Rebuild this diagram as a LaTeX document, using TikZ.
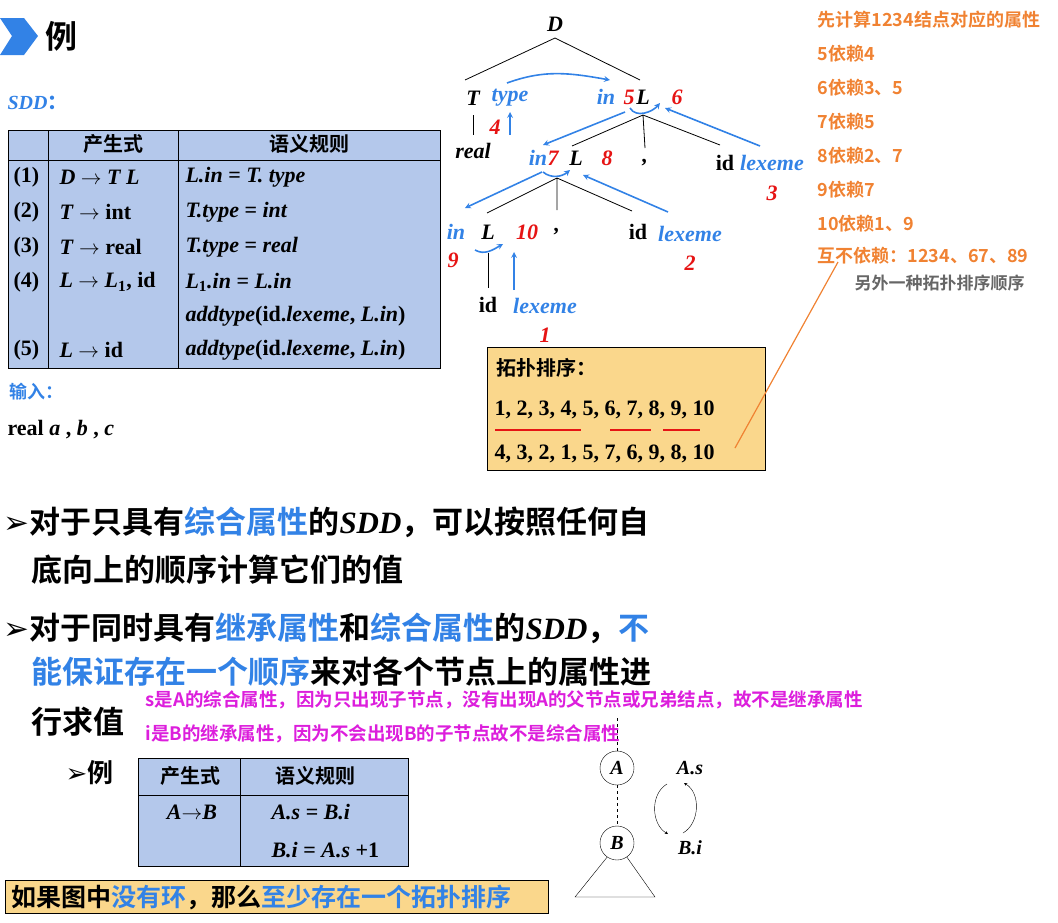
\documentclass[tikz,border=0pt]{standalone}
\usepackage{fontspec}
\setmainfont{Liberation Serif}
\newfontfamily\cjk{Noto Sans CJK SC}[BoldFont={Noto Sans CJK SC Bold}]
\newfontfamily\sym{DejaVu Sans}
\usetikzlibrary{positioning,calc}
\definecolor{myblue}{RGB}{50,130,230}
\definecolor{myred}{RGB}{230,20,20}
\definecolor{myorange}{RGB}{240,130,50}
\definecolor{mymag}{RGB}{220,30,220}
\definecolor{tblue}{RGB}{180,200,235}
\definecolor{tgold}{RGB}{250,215,140}
\newcommand{\zh}[1]{{\cjk\bfseries #1}}
\newcommand{\bi}[1]{\textbf{\textit{#1}}}

\begin{document}
\begin{tikzpicture}[x=1pt,y=-1pt,
  sym/.style={font=\fontsize{22}{24}\selectfont\bfseries\itshape},
  bl/.style={sym,text=myblue},
  num/.style={sym,text=myred},
  blarr/.style={myblue,line width=1.6pt,-stealth},
  edge/.style={line width=0.8pt},
  tbl/.style={font=\fontsize{22}{24}\selectfont\bfseries},
  big/.style={font=\fontsize{31}{34}\selectfont,anchor=west},
  note/.style={font=\fontsize{18}{20}\selectfont\cjk\bfseries,text=myorange,anchor=west},
  pink/.style={font=\fontsize{18.5}{20}\selectfont\cjk\bfseries,text=mymag,anchor=west}
]
\useasboundingbox (0,0) rectangle (1058,922);

% title
\fill[myblue] (0,18) -- (24,18) -- (38,36) -- (24,55) -- (0,55) -- (12,36) -- cycle;
\node[font=\fontsize{32}{34}\selectfont\cjk\bfseries,anchor=west] (title) at (42,36) {例};
\node[bl,anchor=west,font=\fontsize{20}{22}\selectfont\bfseries\itshape] (sdd) at (4,103) {SDD\zh{：}};

% SDD table
\draw[fill=tblue,line width=0.8pt] (8,130) rectangle (440,368);
\draw (8,160) -- (440,160);
\draw (48,130) -- (48,368) (178,130) -- (178,368);
\node[tbl,font=\fontsize{20}{22}\selectfont] (h1) at (113,144) {\zh{产生式}};
\node[tbl,font=\fontsize{20}{22}\selectfont] (h2) at (309,144) {\zh{语义规则}};
\foreach \y/\n/\p/\r in {177/(1)/{\bi{D} $\rightarrow$ \bi{T L}}/{\bi{L.in} = \bi{T. type}},
  212/(2)/{\bi{T} $\rightarrow$ int}/{\bi{T.type} = \bi{int}},
  247/(3)/{\bi{T} $\rightarrow$ real}/{\bi{T.type} = \bi{real}},
  282/(4)/{\bi{L} $\rightarrow$ \bi{L}$_\mathbf{1}$, id}/{\bi{L}$_\mathbf{1}$\bi{.in} = \bi{L.in}},
  316/{}/{}/{\bi{addtype}(id.\bi{lexeme}, \bi{L.in})},
  350/(5)/{\bi{L} $\rightarrow$ id}/{\bi{addtype}(id.\bi{lexeme}, \bi{L.in})}}{
  \node[tbl,anchor=west] at (10,\y) {\n};
  \node[tbl,anchor=west] at (56,\y) {\p};
  \node[tbl,anchor=west] at (182,\y) {\r};
}
\node[anchor=west,font=\fontsize{18}{20}\selectfont\cjk\bfseries,text=myblue] (input) at (6,392) {输入：};
\node[tbl,anchor=west] (realabc) at (4,430) {real \bi{a} , \bi{b} , \bi{c}};

% parse tree
\node[sym] (D) at (555,24) {D};
\node[sym] (T) at (473,98) {T};
\node[bl] (type) at (510,98) {type};
\node[num] (n4) at (495,127) {4};
\node[sym] (real) at (473,151) {real};
\node[bl] (in5) at (606,97) {in};
\node[num] (n5) at (629,97) {5};
\node[sym] (L1) at (643,97) {L};
\node[num] (n6) at (677,97) {6};
\node[bl] (in7) at (538,158) {in};
\node[num] (n7) at (553,158) {7};
\node[sym] (L2) at (576,158) {L};
\node[num] (n8) at (607,158) {8};
\node[sym] (c1) at (645,163) {,};
\node[sym,font=\fontsize{22}{24}\selectfont\bfseries] (id1) at (725,163) {id};
\node[bl] (lx1) at (772,163) {lexeme};
\node[num] (n3) at (772,193) {3};
\node[bl] (in9) at (456,232) {in};
\node[num] (n9) at (453,260) {9};
\node[sym] (L3) at (488,232) {L};
\node[num] (n10) at (527,232) {10};
\node[sym] (c2) at (557,232) {,};
\node[sym,font=\fontsize{22}{24}\selectfont\bfseries] (id2) at (638,232) {id};
\node[bl] (lx2) at (690,234) {lexeme};
\node[num] (n2) at (690,263) {2};
\node[sym,font=\fontsize{22}{24}\selectfont\bfseries] (id3) at (488,305) {id};
\node[bl] (lx3) at (545,306) {lexeme};
\node[num] (n1) at (545,335) {1};

\draw[edge] (555,38) -- (465,80) (555,38) -- (640,80);
\draw[edge] (473,115) -- (473,135);
\draw[edge] (643,115) -- (572,146) (643,115) -- (645,148) (643,115) -- (720,145);
\draw[edge] (557,178) -- (487,213) (557,178) -- (557,210) (557,178) -- (632,211);
\draw[edge] (488,253) -- (488,288);

\draw[blarr] (507,83) to[out=20,in=170] (610,80);
\draw[blarr] (510,135) -- (510,112);
\draw[blarr] (630,108) to[out=-60,in=-130] (660,103);
\draw[blarr] (625,112) -- (543,145);
\draw[blarr] (760,146) -- (665,108);
\draw[blarr] (543,172) to[out=-40,in=-140] (570,170);
\draw[blarr] (542,172) -- (465,208);
\draw[blarr] (668,212) -- (583,175);
\draw[blarr] (475,250) to[out=-30,in=-150] (503,244);
\draw[blarr] (514,290) -- (514,252);

% topological order box
\draw[fill=tgold,line width=0.8pt] (487,347) rectangle (765,470);
\node[tbl,anchor=west,font=\fontsize{20}{22}\selectfont] (topo) at (493,368) {\zh{拓扑排序：}};
\node[tbl,anchor=west] (ord1) at (491,410) {1, 2, 3, 4, 5, 6, 7, 8, 9, 10};
\node[tbl,anchor=west] (ord2) at (491,454) {4, 3, 2, 1, 5, 7, 6, 9, 8, 10};
\draw[myred,line width=1.6pt] (495,430) -- (581,430) (610,430) -- (651,430) (663,430) -- (700,430);
\draw[myorange,line width=1.2pt] (735,448) -- (838,262);

% notes on the right
\foreach \y/\t in {20/先计算1234结点对应的属性,54/5依赖4,88/6依赖3、5,122/7依赖5,156/8依赖2、7,190/9依赖7,224/10依赖1、9,256/互不依赖：1234、67、89}
  \node[note] at (814,\y) {\t};
\node[note,text=gray!80!black,font=\fontsize{17}{19}\selectfont\cjk\bfseries] (other) at (851,283) {另外一种拓扑排序顺序};

% bullets
\node[big] (b1) at (0,522) {{\sym ➢}\zh{对于只具有{\color{myblue}综合属性}的}\bi{SDD}\zh{，可以按照任何自}};
\node[big] (b1b) at (28,570) {\zh{底向上的顺序计算它们的值}};
\node[big] (b2) at (0,628) {{\sym ➢}\zh{对于同时具有{\color{myblue}继承属性}和{\color{myblue}综合属性}的}\bi{SDD}\zh{，{\color{myblue}不}}};
\node[big] (b2b) at (28,672) {\zh{{\color{myblue}能保证存在一个顺序}来对各个节点上的属性进}};
\node[big] (b2c) at (28,722) {\zh{行求值}};
\node[pink] (s1) at (142,700) {s是A的综合属性，因为只出现子节点，没有出现A的父节点或兄弟结点，故不是继承属性};
\node[pink] (s2) at (142,734) {i是B的继承属性，因为不会出现B的子节点故不是综合属性};
\node[big,font=\fontsize{26}{28}\selectfont] (ex) at (62,773) {{\sym ➢}\zh{例}};

% small table
\draw[fill=tblue,line width=0.8pt] (138,758) rectangle (408,866);
\draw (138,795) -- (408,795) (240,758) -- (240,866);
\node[tbl,font=\fontsize{20}{22}\selectfont] at (190,776) {\zh{产生式}};
\node[tbl,font=\fontsize{20}{22}\selectfont] at (315,776) {\zh{语义规则}};
\node[tbl] at (192,812) {\bi{A}$\rightarrow$\bi{B}};
\node[tbl,anchor=west] at (268,812) {\bi{A.s} = \bi{B.i}};
\node[tbl,anchor=west] at (268,850) {\bi{B.i} = \bi{A.s} +1};

% bottom box
\draw[fill=tgold,line width=0.8pt] (5,880) rectangle (548,913);
\node[font=\fontsize{25}{27}\selectfont,anchor=west] (concl) at (8,897) {\zh{如果图中{\color{myblue}没有环}，那么{\color{myblue}至少存在一个拓扑排序}}};

% A/B dependency
\node[draw,circle,minimum size=34pt,inner sep=0pt,sym,font=\fontsize{20}{22}\selectfont\bfseries\itshape] (A) at (617,768) {A};
\node[draw,circle,minimum size=34pt,inner sep=0pt,sym,font=\fontsize{20}{22}\selectfont\bfseries\itshape] (B) at (617,843) {B};
\coordinate (top) at (617,718);
\draw[dashed] (top) -- (A) (A) -- (B);
\coordinate (tl) at (575,897);
\coordinate (tr) at (655,897);
\draw (B.-125) -- (tl) -- (tr) -- (B.-55);
\node[sym,font=\fontsize{20}{22}\selectfont\bfseries\itshape] (As) at (690,768) {A.s};
\node[sym,font=\fontsize{20}{22}\selectfont\bfseries\itshape] (Bi) at (690,848) {B.i};
\draw[-stealth] (667,784) to[out=-150,in=150] (668,834);
\draw[-stealth] (683,833) to[out=30,in=-30] (684,783);
\end{tikzpicture}
\end{document}
